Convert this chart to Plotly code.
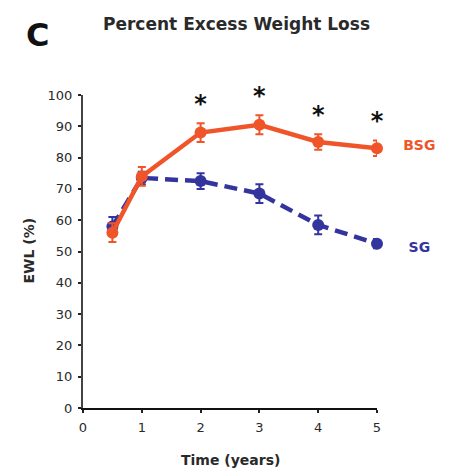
import plotly.graph_objects as go

years = [0.5, 1, 2, 3, 4, 5]
bsg = [56, 74, 88, 90.5, 85, 83]
bsg_err = [3, 3, 3, 3, 2.5, 2.5]
sg = [58, 73.5, 72.5, 68.5, 58.5, 52.5]
sg_err = [3, 2, 2.5, 3, 3, 1.5]
star_years = [2, 3, 4, 5]
star_offset = 5.5
x_ticks = [0, 1, 2, 3, 4, 5]
y_ticks = list(range(0, 101, 10))
group_labels = ["BSG", "SG"]
label_x = 5.72
label_y = [83.5, 51]

BSG_COL = "#F0552A"
SG_COL = "#34349E"
FONT = "DejaVu Sans, sans-serif"
BOLD = "DejaVu Sans"

# figure geometry (pixels in figure; page adds an 8px body margin)
W, H = 468, 469
L, R, T, B = 75, 20, 50, 69
PLOT_W, PLOT_H = 294, 313          # size of the main axes
area_w, area_h = W - L - R, H - T - B
fx, fy = PLOT_W / area_w, PLOT_H / area_h

fig = go.Figure()
fig.add_trace(go.Scatter(
    x=years, y=sg, mode="lines+markers",
    line=dict(color=SG_COL, width=4.5, dash="13px,7px"),
    marker=dict(color=SG_COL, size=12),
    error_y=dict(type="data", array=sg_err, color=SG_COL, thickness=2, width=4),
    showlegend=False, cliponaxis=False))
fig.add_trace(go.Scatter(
    x=years, y=bsg, mode="lines+markers",
    line=dict(color=BSG_COL, width=4.5),
    marker=dict(color=BSG_COL, size=12),
    error_y=dict(type="data", array=bsg_err, color=BSG_COL, thickness=2, width=4),
    showlegend=False, cliponaxis=False))

# second (hidden) axes with the same data scale, extending beyond the main box
star_y = [bsg[years.index(x)] + bsg_err[years.index(x)] + star_offset for x in star_years]
fig.add_trace(go.Scatter(
    x=star_years, y=star_y, mode="text", text=["<b>*</b>"] * len(star_years),
    textposition="middle center",
    textfont=dict(family=BOLD, size=24, color="#111111"),
    xaxis="x2", yaxis="y2", showlegend=False, cliponaxis=False, hoverinfo="skip"))
fig.add_trace(go.Scatter(
    x=[label_x] * len(group_labels), y=label_y, mode="text",
    text=["<b>%s</b>" % g for g in group_labels],
    textposition="middle center",
    textfont=dict(family=BOLD, size=14, color=[BSG_COL, SG_COL]),
    xaxis="x2", yaxis="y2", showlegend=False, cliponaxis=False, hoverinfo="skip"))

def px_to_paper(xp, yp):
    # figure-pixel position -> paper fraction of the plotting area
    return (xp - L) / area_w, (H - B - yp) / area_h

ax, ay = px_to_paper(228, 16)
fig.add_annotation(x=ax, y=ay, xref="paper", yref="paper", xanchor="center", yanchor="middle",
                   text="<b>Percent Excess Weight Loss</b>", showarrow=False,
                   font=dict(family=BOLD, size=17, color="#2a2a2a"))
ax, ay = px_to_paper(29, 27)
fig.add_annotation(x=ax, y=ay, xref="paper", yref="paper", xanchor="center", yanchor="middle",
                   text="<b>C</b>", showarrow=False,
                   font=dict(family=BOLD, size=32, color="#111111"))
ax, ay = px_to_paper(20.5, 243)
fig.add_annotation(x=ax, y=ay, xref="paper", yref="paper", xanchor="center", yanchor="middle",
                   text="<b>EWL (%)</b>", textangle=-90, showarrow=False,
                   font=dict(family=BOLD, size=14, color="#2a2a2a"))
ax, ay = px_to_paper(222, 452)
fig.add_annotation(x=ax, y=ay, xref="paper", yref="paper", xanchor="center", yanchor="middle",
                   text="<b>Time (years)</b>", showarrow=False,
                   font=dict(family=BOLD, size=14, color="#2a2a2a"))

fig.update_layout(
    width=W, height=H,
    margin=dict(l=L, r=R, t=T, b=B),
    paper_bgcolor="white", plot_bgcolor="rgba(0,0,0,0)",
    font=dict(family=FONT, size=13, color="#2a2a2a"),
    xaxis=dict(domain=[0, fx], range=[0, 5], tickvals=x_ticks, ticks="outside", ticklen=3,
               tickwidth=2, tickcolor="#222222", showline=True, linecolor="#111111", linewidth=2,
               showgrid=False, zeroline=False, ticklabelstandoff=3, anchor="y",
               tickfont=dict(family=BOLD, size=13, color="#2a2a2a")),
    yaxis=dict(domain=[0, fy], range=[0, 100], tickvals=y_ticks, ticks="outside", ticklen=3,
               tickwidth=2, tickcolor="#222222", showline=True, linecolor="#444444", linewidth=2,
               showgrid=False, zeroline=False, ticklabelstandoff=3, anchor="x",
               tickfont=dict(family=BOLD, size=13, color="#2a2a2a")),
    xaxis2=dict(domain=[0, 1], range=[0, 5 / fx], anchor="y2",
                visible=False, showgrid=False, zeroline=False),
    yaxis2=dict(domain=[0, 1], range=[0, 100 / fy], anchor="x2",
                visible=False, showgrid=False, zeroline=False),
)

fig.write_html("out.html")
